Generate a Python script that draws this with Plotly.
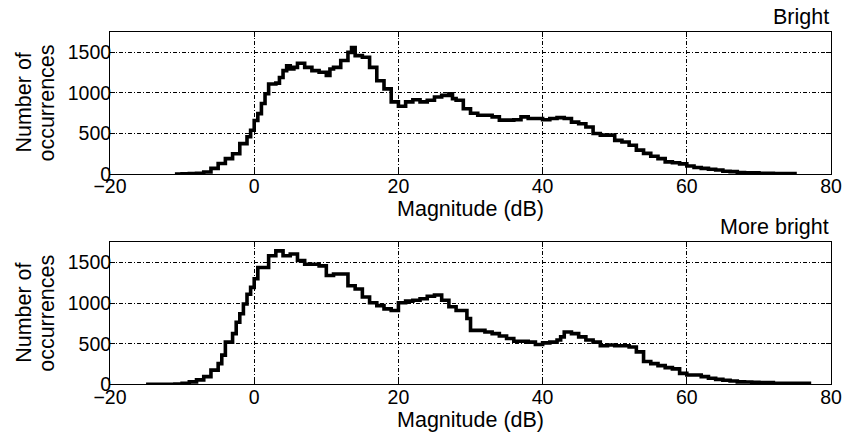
import plotly.graph_objects as go

# Magnitude histogram, "Bright" condition (bin left edges in dB, counts)
mag_bright = ([-11, -10, -9, -8, -7, -6, -5, -4, -3, -2, -1, -0.5, 0, 0.5, 1, 1.5, 2, 3, 3.5,
               4, 4.5, 5, 5.5, 6, 7, 8, 9, 10, 10.5, 11, 12, 13, 13.5, 14, 15, 16, 17, 18, 19,
               20, 21, 22, 23, 24, 25, 26, 27, 27.5, 28]
              + list(range(29, 69)) + [70, 72, 75])
cnt_bright = [0, 3, 6, 10, 25, 70, 130, 190, 250, 375, 460, 540, 660, 745, 870, 990, 1110, 1120, 1190,
              1275, 1335, 1295, 1315, 1365, 1315, 1275, 1255, 1215, 1295, 1315, 1400, 1500, 1560, 1460, 1440, 1315, 1150, 1050, 890,
              835, 890, 915, 890, 910, 950, 970, 990, 930, 910,
              805, 750, 725, 725, 705, 665, 665, 670, 705, 685, 685, 670, 685, 695, 685, 640, 620, 580, 500, 480,
              480, 415, 395, 355, 295, 255, 220, 190, 150, 140, 125, 100, 80, 70, 60, 50, 35, 30, 20, 15,
              10, 5, 0]

# "More bright" condition
mag_more = ([-15, -11, -10, -9, -8, -7, -6, -5, -4.5, -4, -3, -2.5, -2, -1.5, -1, -0.5, 0, 0.5, 1]
            + list(range(2, 29)) + [29.5] + list(range(30, 43)) + [42.5] + list(range(43, 71)) + [72, 77])
cnt_more = [0, 4, 12, 30, 55, 95, 175, 255, 360, 520, 625, 765, 870, 990, 1110, 1195, 1300, 1440, 1440,
            1585, 1645, 1585, 1605, 1525, 1480, 1480, 1460, 1340, 1360, 1360, 1215, 1175, 1075, 1005, 970, 930, 910,
            1005, 1025, 1035, 1055, 1085, 1100, 1035, 955, 910, 810,
            665,
            665, 645, 625, 595, 565, 530, 530, 520, 490, 510, 520, 545, 585,
            645,
            625, 585, 545, 520, 475, 485, 475, 475, 460, 400, 280, 255, 230, 205, 190, 135, 115, 115, 95, 75,
            60, 50, 40, 30, 28, 25, 20, 12,
            5, 0]

titles = ["Bright", "More bright"]
tick_font = dict(family="Liberation Sans, Arial, sans-serif", size=19.5, color="black")
font = dict(family="Liberation Sans, Arial, sans-serif", size=21.5, color="black")

fig = go.Figure()
fig.add_trace(go.Scatter(x=mag_bright, y=cnt_bright, mode="lines", line_shape="hv",
                         line=dict(color="black", width=3.6), xaxis="x", yaxis="y"))
fig.add_trace(go.Scatter(x=mag_more, y=cnt_more, mode="lines", line_shape="hv",
                         line=dict(color="black", width=3.6), xaxis="x2", yaxis="y2"))

grid = dict(showgrid=True, gridcolor="black", gridwidth=1, griddash="4px,2px,1px,2px")
xax = dict(range=[-20, 80], tickvals=[-20, 0, 20, 40, 60, 80],
           ticktext=["\u221220", "0", "20", "40", "60", "80"],
           showline=True, linecolor="black", linewidth=1, mirror="ticks",
           ticks="inside", ticklen=5, tickcolor="black", ticklabelstandoff=-5,
           zeroline=False, tickfont=tick_font, automargin=False,
           title=dict(text="Magnitude (dB)", font=font, standoff=0), **grid)
yax = dict(range=[0, 1750], tickvals=[0, 500, 1000, 1500],
           showline=True, linecolor="black", linewidth=1, mirror="ticks",
           ticks="inside", ticklen=5, tickcolor="black", ticklabelstandoff=-6,
           zeroline=False, tickfont=tick_font, automargin=False, **grid)

fig.update_layout(
    width=843, height=433,
    margin=dict(l=0, r=0, t=0, b=0),
    paper_bgcolor="white", plot_bgcolor="white",
    showlegend=False,
    font=font,
    xaxis=dict(xax, domain=[0.1305, 0.9858], anchor="y"),
    yaxis=dict(yax, domain=[0.598, 0.926], anchor="x"),
    xaxis2=dict(xax, domain=[0.1305, 0.9858], anchor="y2"),
    yaxis2=dict(yax, domain=[0.1125, 0.4404], anchor="x2"),
)

for t, top in zip(titles, [0.926, 0.4404]):
    fig.add_annotation(text=t, xref="paper", yref="paper", x=0.9858, y=top,
                       xanchor="right", yanchor="bottom", showarrow=False, font=font, yshift=1)
    # two-line y label, one annotation per line to keep the tight line spacing
    for line, xpos in [("Number of", 24.5), ("occurrences", 47.5)]:
        fig.add_annotation(text=line, xref="paper", yref="paper",
                           x=xpos / 843, y=top - 0.164, textangle=-90, showarrow=False,
                           font=font, xanchor="center", yanchor="middle")

# drop the default page margin so the 843x433 figure fills the window exactly
fig.write_html("out.html", config={"displayModeBar": False},
               post_script="document.body.style.margin='0';document.body.style.overflow='hidden';")
